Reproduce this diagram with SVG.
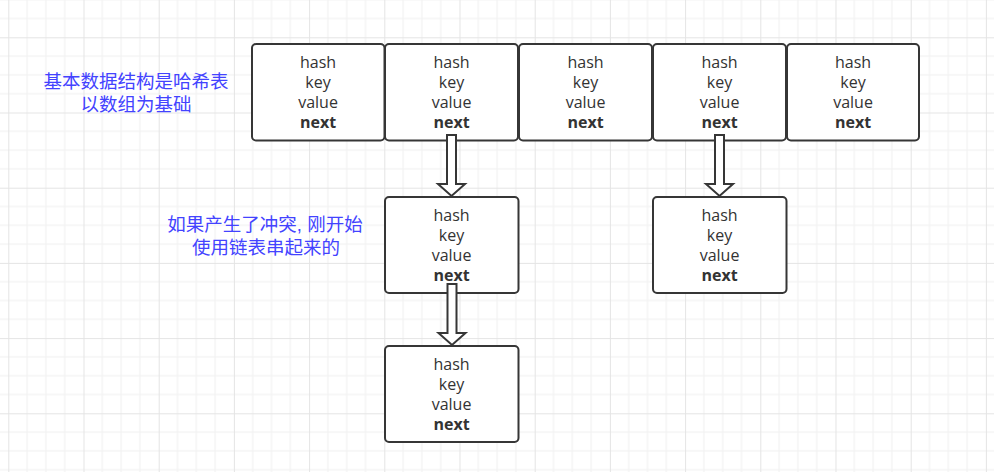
<svg xmlns="http://www.w3.org/2000/svg" width="994" height="472" viewBox="0 0 994 472">
  <defs>
    <pattern id="grid" patternUnits="userSpaceOnUse" x="8.3" y="37.3" width="75.2" height="75.2">
      <g stroke="#f0f0f0" stroke-width="1">
        <line x1="18.8" y1="0" x2="18.8" y2="75.2"/>
        <line x1="37.6" y1="0" x2="37.6" y2="75.2"/>
        <line x1="56.4" y1="0" x2="56.4" y2="75.2"/>
        <line x1="0" y1="18.8" x2="75.2" y2="18.8"/>
        <line x1="0" y1="37.6" x2="75.2" y2="37.6"/>
        <line x1="0" y1="56.4" x2="75.2" y2="56.4"/>
      </g>
      <g stroke="#e4e4e4" stroke-width="1">
        <line x1="0.5" y1="0" x2="0.5" y2="75.2"/>
        <line x1="0" y1="0.5" x2="75.2" y2="0.5"/>
      </g>
    </pattern>
    <style>
      .box { fill: #ffffff; stroke: #363636; stroke-width: 2; }
      .t { font-family: "Open Sans", "Noto Sans", sans-serif; font-size: 16px; fill: #333333; text-anchor: middle; }
      .b { font-weight: bold; }
      .note { font-family: "Liberation Sans", "Noto Sans CJK SC", sans-serif; font-size: 18.5px; fill: #4343ff; text-anchor: middle; }
      .arrow { fill: #ffffff; stroke: #363636; stroke-width: 2; stroke-linejoin: miter; }
    </style>
  </defs>
  <rect width="994" height="472" fill="#ffffff"/>
  <rect width="994" height="472" fill="url(#grid)"/>

  <g id="note1">
    <text class="note" x="136" y="88">基本数据结构是哈希表</text>
    <text class="note" x="136" y="111">以数组为基础</text>
  </g>
  <g id="note2">
    <text class="note" x="265" y="231">如果产生了冲突, 刚开始</text>
    <text class="note" x="266" y="254">使用链表串起来的</text>
  </g>

  <g id="n1">
    <rect class="box" x="252" y="44" width="132.5" height="96.5" rx="4"/>
    <text class="t" x="318" y="68">hash</text>
    <text class="t" x="318" y="88">key</text>
    <text class="t" x="318" y="108">value</text>
    <text class="t b" x="318" y="128">next</text>
  </g>
  <g id="n2">
    <rect class="box" x="385" y="44" width="133" height="96.5" rx="4"/>
    <text class="t" x="451.5" y="68">hash</text>
    <text class="t" x="451.5" y="88">key</text>
    <text class="t" x="451.5" y="108">value</text>
    <text class="t b" x="451.5" y="128">next</text>
  </g>
  <g id="n3">
    <rect class="box" x="519" y="44" width="133" height="96.5" rx="4"/>
    <text class="t" x="585.5" y="68">hash</text>
    <text class="t" x="585.5" y="88">key</text>
    <text class="t" x="585.5" y="108">value</text>
    <text class="t b" x="585.5" y="128">next</text>
  </g>
  <g id="n4">
    <rect class="box" x="653" y="44" width="133" height="96.5" rx="4"/>
    <text class="t" x="719.5" y="68">hash</text>
    <text class="t" x="719.5" y="88">key</text>
    <text class="t" x="719.5" y="108">value</text>
    <text class="t b" x="719.5" y="128">next</text>
  </g>
  <g id="n5">
    <rect class="box" x="787" y="44" width="132" height="96.5" rx="4"/>
    <text class="t" x="853" y="68">hash</text>
    <text class="t" x="853" y="88">key</text>
    <text class="t" x="853" y="108">value</text>
    <text class="t b" x="853" y="128">next</text>
  </g>
  <g id="n6">
    <rect class="box" x="385" y="197" width="133.5" height="96" rx="4"/>
    <text class="t" x="451.5" y="221">hash</text>
    <text class="t" x="451.5" y="241">key</text>
    <text class="t" x="451.5" y="261">value</text>
    <text class="t b" x="451.5" y="281">next</text>
  </g>
  <g id="n7">
    <rect class="box" x="653" y="197" width="133.5" height="96" rx="4"/>
    <text class="t" x="719.5" y="221">hash</text>
    <text class="t" x="719.5" y="241">key</text>
    <text class="t" x="719.5" y="261">value</text>
    <text class="t b" x="719.5" y="281">next</text>
  </g>
  <g id="n8">
    <rect class="box" x="385" y="346" width="133.5" height="96" rx="4"/>
    <text class="t" x="451.5" y="370">hash</text>
    <text class="t" x="451.5" y="390">key</text>
    <text class="t" x="451.5" y="410">value</text>
    <text class="t b" x="451.5" y="430">next</text>
  </g>

  <g id="connectors">
    <path class="arrow" d="M447 135 L456 135 L456 184 L465 184 L451.5 196 L438 184 L447 184 Z"/>
    <path class="arrow" d="M715 135 L724 135 L724 184 L733 184 L719.5 196 L706 184 L715 184 Z"/>
    <path class="arrow" d="M447.5 284 L456.5 284 L456.5 333 L465.5 333 L452 345 L438.5 333 L447.5 333 Z"/>
  </g>
</svg>
